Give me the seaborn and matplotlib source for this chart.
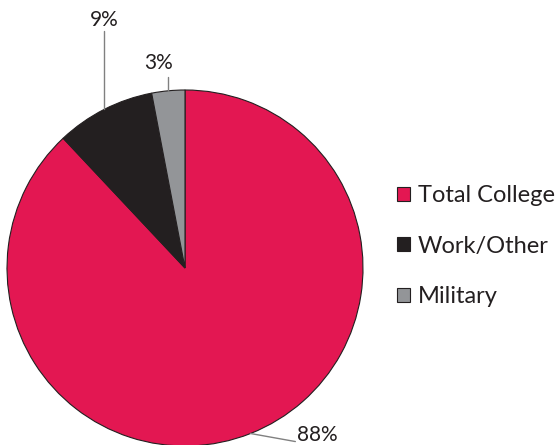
import matplotlib
matplotlib.use("Agg")
import matplotlib.pyplot as plt
import seaborn as sbn
import numpy as np

categories = ["Total College", "Work/Other", "Military"]
shares = [88, 9, 3]
pct_labels = ["88%", "9%", "3%"]
colors = ["#E31752", "#231F20", "#939598"]

sbn.set_theme(style="white")
plt.rcParams['font.family'] = ['Lato', 'DejaVu Sans']

fig = plt.figure(figsize=(5.59, 4.45), dpi=100)
ax = fig.add_axes([7 / 559, -1 / 445, 356 / 559, 356 / 445])
wedges, _ = ax.pie(
    shares,
    colors=colors,
    startangle=90,
    counterclock=False,
    radius=1.0,
    wedgeprops=dict(edgecolor="#231F20", linewidth=0.8),
)
ax.set_aspect("equal")
ax.set_xlim(-1, 1)
ax.set_ylim(-1, 1)
ax.axis("off")

# leader lines and percentage labels, anchored on each wedge's middle angle
line_kw = dict(color="#808080", linewidth=1, clip_on=False)
text_kw = dict(fontsize=15, color="#231F20", clip_on=False)
for w, lab in zip(wedges, pct_labels):
    mid = np.deg2rad((w.theta1 + w.theta2) / 2)
    x, y = np.cos(mid), np.sin(mid)
    if lab == "88%":
        ax.plot([x, 0.62], [y, -0.975], **line_kw)
        ax.text(0.63, -0.94, lab, ha="left", va="center", **text_kw)
    elif lab == "9%":
        ax.plot([x, x], [y, 1.33], **line_kw)
        ax.text(x, 1.393, lab, ha="center", va="center", **text_kw)
    else:
        ax.plot([x, x], [y, 1.075], **line_kw)
        ax.text(x - 0.057, 1.152, lab, ha="center", va="center", **text_kw)

leg = fig.legend(
    wedges, categories,
    loc="center left",
    bbox_to_anchor=(397 / 559, 1 - 246 / 445),
    frameon=False,
    fontsize=17,
    borderpad=0,
    borderaxespad=0,
    handlelength=0.55,
    handleheight=0.55,
    handletextpad=0.34,
    labelspacing=1.25,
)
for txt in leg.get_texts():
    txt.set_color("#231F20")

fig.savefig("out.png", dpi=100)
